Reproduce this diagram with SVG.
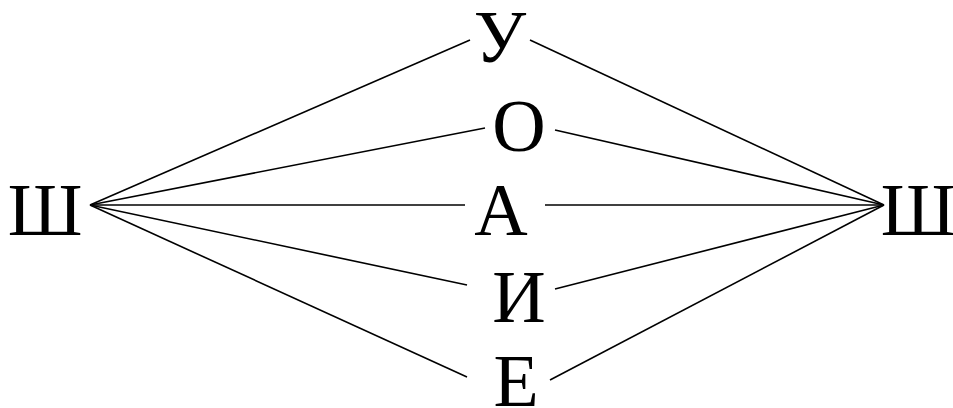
<svg xmlns="http://www.w3.org/2000/svg" width="953" height="408" viewBox="0 0 953 408">
<style>
text{font-family:"Liberation Serif","Times New Roman",serif;font-size:74px;fill:#000;text-anchor:middle}
.c line{stroke:#000;stroke-width:1.6}
</style>
<rect width="953" height="408" fill="#fff"/>
<g class="c" id="connectors">
<line x1="90" y1="205" x2="470" y2="40"/>
<line x1="90" y1="205" x2="485" y2="128"/>
<line x1="90" y1="205" x2="465" y2="205"/>
<line x1="90" y1="205" x2="467" y2="285"/>
<line x1="90" y1="205" x2="467" y2="377"/>
<line x1="530" y1="40" x2="884" y2="205"/>
<line x1="555" y1="130" x2="884" y2="205"/>
<line x1="545" y1="205" x2="884" y2="205"/>
<line x1="555" y1="289" x2="884" y2="205"/>
<line x1="550" y1="380" x2="884" y2="205"/>
</g>
<g id="n-left"><text x="45" y="235">Ш</text></g>
<g id="n-right"><text x="918" y="235">Ш</text></g>
<g id="n-u"><text x="500" y="62">У</text></g>
<g id="n-o"><text x="519" y="151">О</text></g>
<g id="n-a"><text x="501" y="235">А</text></g>
<g id="n-i"><text x="519" y="322">И</text></g>
<g id="n-e"><text x="516" y="406">Е</text></g>
</svg>
